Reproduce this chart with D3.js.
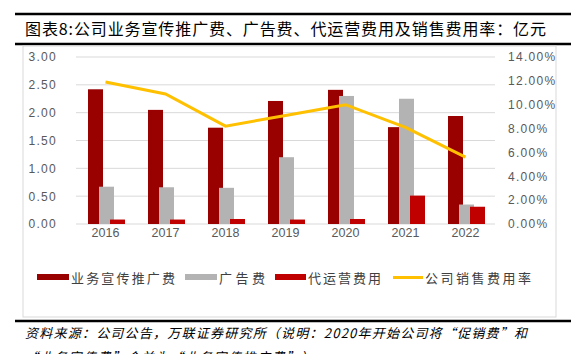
<!DOCTYPE html>
<html>
<head>
<meta charset="utf-8">
<script src="https://cdn.jsdelivr.net/npm/d3@7"></script>
<style>
  body { margin: 0; background: #fff; }
  text { font-family: "Noto Sans CJK SC", "Liberation Sans", sans-serif; }
</style>
</head>
<body>
<div id="chart"></div>
<script>
// data
var years = ["2016", "2017", "2018", "2019", "2020", "2021", "2022"];
var promo = [2.42, 2.05, 1.73, 2.21, 2.41, 1.74, 1.94];   // 业务宣传推广费
var ads = [0.67, 0.66, 0.65, 1.20, 2.30, 2.25, 0.35];     // 广告费
var agency = [0.08, 0.08, 0.09, 0.08, 0.09, 0.51, 0.31];  // 代运营费用
var rate = [0.119, 0.109, 0.082, 0.091, 0.100, 0.081, 0.056]; // 公司销售费用率
var leftTicks = [0, 0.5, 1, 1.5, 2, 2.5, 3];
var rightTicks = [0, 0.02, 0.04, 0.06, 0.08, 0.10, 0.12, 0.14];
var seriesNames = ["业务宣传推广费", "广告费", "代运营费用", "公司销售费用率"];
var colors = ["#990000", "#b3b3b3", "#c00000", "#ffc000"];

var svg = d3.select("#chart").append("svg")
  .attr("width", 578).attr("height", 354);

// header / footer rules
svg.append("line").attr("x1", 15).attr("x2", 571).attr("y1", 14).attr("y2", 14)
  .attr("stroke", "#000").attr("stroke-width", 2.5);
svg.append("line").attr("x1", 15).attr("x2", 571).attr("y1", 44).attr("y2", 44)
  .attr("stroke", "#000").attr("stroke-width", 2.5);
svg.append("line").attr("x1", 15).attr("x2", 571).attr("y1", 321).attr("y2", 321)
  .attr("stroke", "#000").attr("stroke-width", 2.5);

svg.append("text").attr("x", 25).attr("y", 35)
  .attr("font-size", 16).attr("fill", "#000")
  .attr("textLength", 521).attr("lengthAdjust", "spacing")
  .text("图表8:公司业务宣传推广费、广告费、代运营费用及销售费用率：亿元");

// chart frame
svg.append("rect").attr("x", 23).attr("y", 46).attr("width", 533).attr("height", 271)
  .attr("fill", "none").attr("stroke", "#d9d9d9");

var x = d3.scaleBand().domain(years).range([75.5, 495.5]);
var y = d3.scaleLinear().domain([0, 3]).range([224, 57]);
var yR = d3.scaleLinear().domain([0, 0.14]).range([224, 57]);

// grid
svg.selectAll(".grid").data(leftTicks).enter().append("line")
  .attr("x1", 76).attr("x2", 495)
  .attr("y1", function(d){ return y(d); }).attr("y2", function(d){ return y(d); })
  .attr("stroke", "#d9d9d9").attr("stroke-width", 1);

// axes
var leftAxis = svg.append("g").attr("transform", "translate(60,0)")
  .call(d3.axisLeft(y).tickValues(leftTicks).tickFormat(d3.format(".2f")).tickSize(0));
var rightAxis = svg.append("g").attr("transform", "translate(505,0)")
  .call(d3.axisRight(yR).tickValues(rightTicks).tickFormat(d3.format(".2%")).tickSize(0));
var bottomAxis = svg.append("g").attr("transform", "translate(0,230)")
  .call(d3.axisBottom(x).tickSize(0));
[leftAxis, rightAxis, bottomAxis].forEach(function(a){
  a.select(".domain").remove();
  a.selectAll("text").attr("fill", "#595959").attr("font-size", 12)
    .style("font-family", "'Liberation Sans', Arial, sans-serif");
});
leftAxis.selectAll("text").attr("letter-spacing", 1.3);
rightAxis.selectAll("text").attr("letter-spacing", 1.3);
bottomAxis.selectAll("text").attr("dy", "0.3em").attr("font-size", 12.5);

// bars (overlapping clusters)
var barW = 15, step = 11;
[promo, ads, agency].forEach(function(vals, i){
  svg.append("g").selectAll("rect").data(vals).enter().append("rect")
    .attr("x", function(d, j){ return x(years[j]) + x.bandwidth() / 2 - 17.5 + i * step; })
    .attr("y", function(d){ return y(d); })
    .attr("width", barW)
    .attr("height", function(d){ return y(0) - y(d); })
    .attr("fill", colors[i]);
});

// rate line
var line = d3.line()
  .x(function(d, j){ return x(years[j]) + x.bandwidth() / 2; })
  .y(function(d){ return yR(d); });
svg.append("path").datum(rate)
  .attr("d", line).attr("fill", "none")
  .attr("stroke", colors[3]).attr("stroke-width", 3);

// legend
var legendItems = [
  {sx: 37, sw: 32, tx: 71, tw: 104},
  {sx: 185, sw: 32, tx: 219, tw: 46},
  {sx: 275, sw: 31, tx: 308, tw: 73},
  {sx: 393, sw: 30, tx: 425, tw: 106}
];
legendItems.forEach(function(it, i){
  if (i < 3) {
    svg.append("rect").attr("x", it.sx).attr("y", 274).attr("width", it.sw).attr("height", 6)
      .attr("fill", colors[i]);
  } else {
    svg.append("line").attr("x1", it.sx).attr("x2", it.sx + it.sw).attr("y1", 277.5).attr("y2", 277.5)
      .attr("stroke", colors[i]).attr("stroke-width", 3);
  }
  svg.append("text").attr("x", it.tx).attr("y", 282.5)
    .attr("font-size", 13).attr("fill", "#404040")
    .attr("textLength", it.tw).attr("lengthAdjust", "spacing")
    .text(seriesNames[i]);
});

// source note
svg.append("text").attr("x", 25).attr("y", 338)
  .attr("font-size", 13).attr("font-style", "italic").attr("fill", "#000")
  .attr("textLength", 502).attr("lengthAdjust", "spacing")
  .text("资料来源：公司公告，万联证券研究所（说明：2020年开始公司将“促销费”和");
svg.append("text").attr("x", 25).attr("y", 362)
  .attr("font-size", 13).attr("font-style", "italic").attr("fill", "#000")
  .attr("letter-spacing", 1.5)
  .text("“业务宣传费”合并为“业务宣传推广费”）");
</script>
</body>
</html>
